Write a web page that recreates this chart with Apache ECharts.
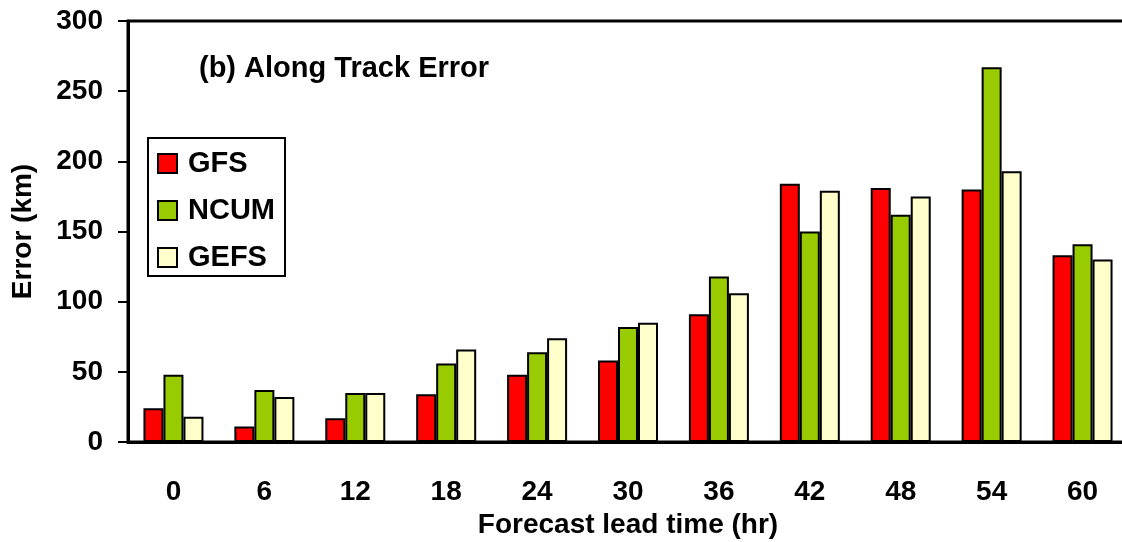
<!DOCTYPE html>
<html>
<head>
<meta charset="utf-8">
<script src="https://cdn.jsdelivr.net/npm/echarts@6/dist/echarts.min.js"></script>
<style>
html,body{margin:0;padding:0;background:#fff;}
#chart{width:1122px;height:542px;}
</style>
</head>
<body>
<div id="chart"></div>
<script>
const categories = ['0','6','12','18','24','30','36','42','48','54','60'];
const gfs  = [24, 11, 17, 34, 48, 58, 91, 184, 181, 180, 133];
const ncum = [48, 37, 35, 56, 64, 82, 118, 150, 162, 267, 141];
const gefs = [18, 32, 35, 66, 74, 85, 106, 179, 175, 193, 130];
const yTicks = {min: 0, max: 300, interval: 50};

const FONT = 'Liberation Sans, Arial, sans-serif';
const chart = echarts.init(document.getElementById('chart'));
const bold = (size) => ({fontFamily: FONT, fontWeight: 'bold', fontSize: size, color: '#000'});
function bar(name, data, color) {
  return {
    name, type: 'bar', data, barWidth: 20, barGap: '0%',
    itemStyle: {color, borderColor: '#000', borderWidth: 2},
    emphasis: {disabled: true}, animation: false
  };
}
chart.setOption({
  animation: false,
  backgroundColor: '#fff',
  title: {
    text: '(b) Along Track Error', left: 199, top: 54, padding: 0,
    textStyle: bold(29)
  },
  legend: {
    orient: 'vertical', left: 157, top: 149, padding: 0,
    icon: 'rect',
    itemWidth: 19, itemHeight: 19, itemGap: 18,
    textStyle: Object.assign(bold(29), {lineHeight: 28, padding: [0,0,0,6]}),
    data: ['GFS', 'NCUM', 'GEFS'], selectedMode: false
  },
  graphic: [{
    type: 'rect', left: 147, top: 137, z: 0,
    shape: {width: 137, height: 138},
    style: {fill: '#fff', stroke: '#000', lineWidth: 2}
  }],
  grid: {
    left: 128, top: 21, width: 1000, height: 421,
    outerBoundsMode: 'none', containLabel: false,
    show: true, borderColor: '#000', borderWidth: 3, backgroundColor: 'transparent'
  },
  xAxis: {
    type: 'category', data: categories,
    name: 'Forecast lead time (hr)', nameLocation: 'middle', nameGap: 66,
    nameTextStyle: bold(28),
    axisLine: {lineStyle: {color: '#000', width: 3}},
    axisTick: {length: 9, lineStyle: {color: '#000', width: 2}},
    axisLabel: Object.assign(bold(28), {margin: 36})
  },
  yAxis: {
    type: 'value', min: yTicks.min, max: yTicks.max, interval: yTicks.interval,
    name: 'Error (km)', nameLocation: 'middle', nameGap: 91,
    nameTextStyle: bold(28),
    axisLine: {show: true, lineStyle: {color: '#000', width: 3}},
    axisTick: {show: true, length: 10, lineStyle: {color: '#000', width: 2}},
    splitLine: {show: false},
    axisLabel: Object.assign(bold(28), {margin: 25})
  },
  series: [bar('GFS', gfs, '#FF0000'), bar('NCUM', ncum, '#99CC00'), bar('GEFS', gefs, '#FFFFCC')]
});
</script>
</body>
</html>
